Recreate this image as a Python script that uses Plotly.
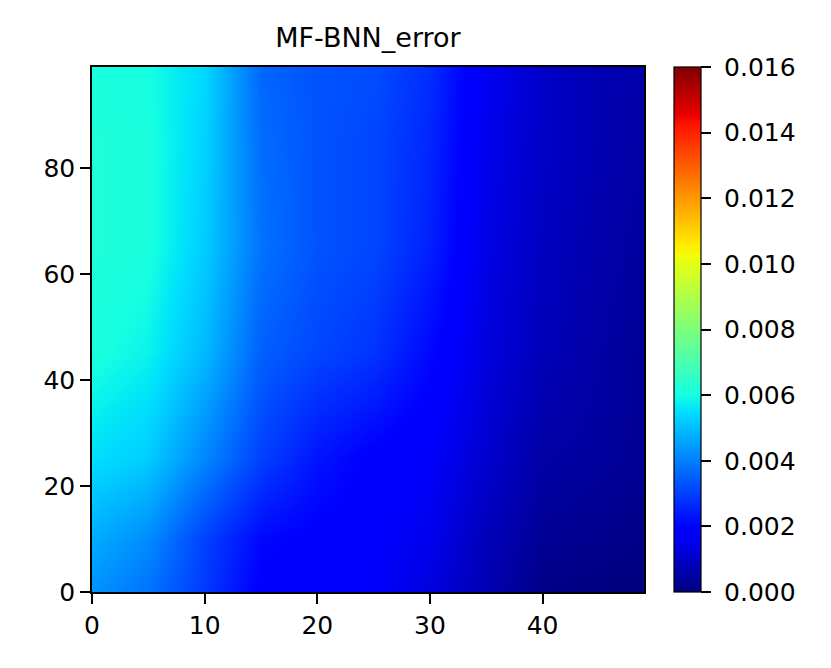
import plotly.graph_objects as go

# sample grid (value in error units)
x_pos = [0, 5, 10, 15, 20, 25, 30, 35, 40, 45, 49]
y_pos = [0, 10, 25, 45, 65, 85, 99]

row_y0 = [0.0043, 0.0038, 0.0029, 0.0019, 0.0019, 0.0017, 0.0013, 0.0007, 0.0001, 0.0000, 0.0000]
row_y10 = [0.0047, 0.0042, 0.0030, 0.0021, 0.0019, 0.0018, 0.0015, 0.0008, 0.0003, 0.0002, 0.0001]
row_y25 = [0.0055, 0.0052, 0.0041, 0.0030, 0.0023, 0.0019, 0.0017, 0.0011, 0.0005, 0.0004, 0.0003]
row_y45 = [0.0061, 0.0058, 0.0049, 0.0035, 0.0031, 0.0028, 0.0021, 0.0013, 0.0008, 0.0005, 0.0003]
row_y65 = [0.0062, 0.0061, 0.0052, 0.0038, 0.0033, 0.0031, 0.0025, 0.0014, 0.0009, 0.0006, 0.0004]
row_y85 = [0.0062, 0.0061, 0.0053, 0.0037, 0.0033, 0.0031, 0.0026, 0.0015, 0.0010, 0.0007, 0.0005]
row_y99 = [0.0061, 0.0060, 0.0054, 0.0036, 0.0033, 0.0032, 0.0027, 0.0016, 0.0010, 0.0007, 0.0006]

z_rows = [row_y0, row_y10, row_y25, row_y45, row_y65, row_y85, row_y99]

cbar_ticks = [0.000, 0.002, 0.004, 0.006, 0.008, 0.010, 0.012, 0.014, 0.016]
x_ticks = [0, 10, 20, 30, 40]
y_ticks = [0, 20, 40, 60, 80]

# matplotlib "jet"
jet = [
    [0.0, "rgb(0,0,128)"],
    [0.11, "rgb(0,0,255)"],
    [0.125, "rgb(0,0,255)"],
    [0.34, "rgb(0,219,255)"],
    [0.35, "rgb(0,230,247)"],
    [0.375, "rgb(21,255,226)"],
    [0.64, "rgb(239,255,8)"],
    [0.65, "rgb(247,245,0)"],
    [0.66, "rgb(255,236,0)"],
    [0.89, "rgb(255,19,0)"],
    [0.91, "rgb(232,0,0)"],
    [1.0, "rgb(128,0,0)"],
]

FONT = "DejaVu Sans"
TICK_SIZE = 25
TICK_LEN = 10

fig = go.Figure(
    go.Heatmap(
        x=x_pos,
        y=y_pos,
        z=z_rows,
        zmin=0,
        zmax=0.016,
        zsmooth="best",
        colorscale=jet,
        colorbar=dict(
            x=1.054,
            xanchor="left",
            y=0.5,
            yanchor="middle",
            len=1.0,
            lenmode="fraction",
            thickness=27,
            outlinewidth=1.2,
            outlinecolor="black",
            tickmode="array",
            tickvals=cbar_ticks,
            ticktext=["\u00a0" + f"{v:.3f}" for v in cbar_ticks],
            ticks="outside",
            ticklen=TICK_LEN,
            tickwidth=1.5,
            tickcolor="black",
            tickfont=dict(family=FONT, size=TICK_SIZE, color="black"),
            xpad=0,
            ypad=0,
        ),
    )
)

axis_common = dict(
    showline=True,
    linecolor="black",
    linewidth=1.5,
    mirror=True,
    ticks="outside",
    ticklen=TICK_LEN,
    tickwidth=1.5,
    tickcolor="black",
    showgrid=False,
    zeroline=False,
    tickfont=dict(family=FONT, size=TICK_SIZE, color="black"),
)

fig.update_xaxes(range=[0, 49], tickvals=x_ticks, **axis_common)
fig.update_yaxes(range=[0, 99], tickvals=y_ticks, **axis_common)

W, H = 823, 660
L, T = 84, 59
fig.update_layout(
    width=W,
    height=H,
    margin=dict(l=L, r=W - L - 552, t=T, b=H - T - 525),
    paper_bgcolor="white",
    plot_bgcolor="white",
    title=dict(
        text="MF-BNN_error",
        x=(L + 276) / W,
        xanchor="center",
        y=1 - 30 / H,
        yanchor="middle",
        font=dict(family=FONT, size=27, color="black"),
    ),
)

fig.write_html("out.html")
